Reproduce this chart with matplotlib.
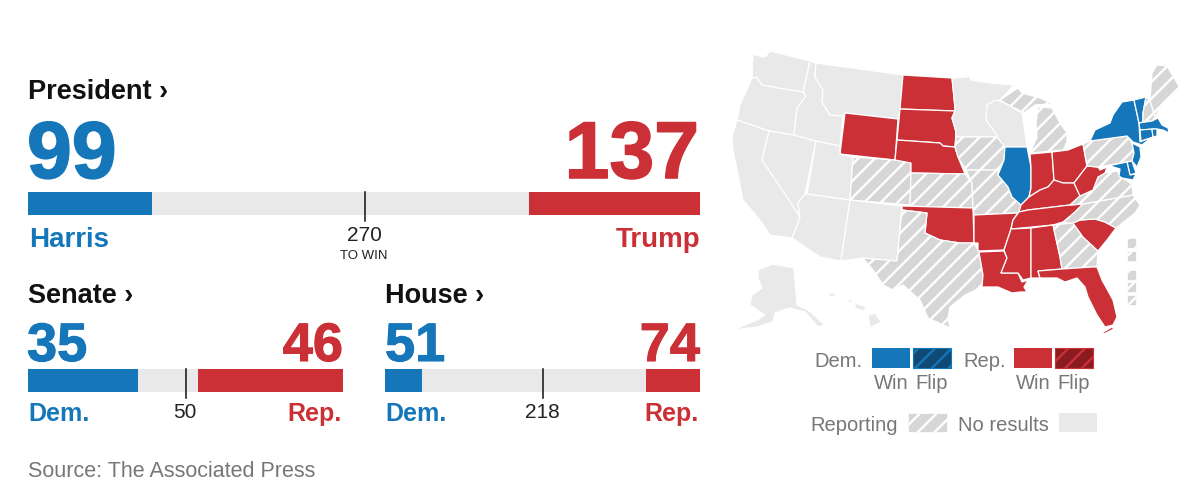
import matplotlib
matplotlib.use('Agg')
import matplotlib.pyplot as plt
import matplotlib.patheffects as pe
from matplotlib.patches import Polygon, Rectangle

plt.rcParams['font.family'] = ['Liberation Sans', 'DejaVu Sans']
plt.rcParams['hatch.linewidth'] = 1.7

BLUE = '#1576b9'
RED = '#ca3035'
DARK_BLUE = '#0f4a75'
DARK_RED = '#8a1c20'
GRAY = '#e9e9e9'
HATCH = '#d6d6d6'
TEXT_GRAY = '#777777'

# seats
pres_total, pres_dem, pres_rep, pres_win = 538, 99, 137, 270
senate_total, senate_dem, senate_rep, senate_win = 100, 35, 46, 50
house_total, house_dem, house_rep, house_win = 435, 51, 74, 218

# state outlines, in image pixels
states = {
    'WA': [(753,54),(762,57),(766,56),(770,51),(810,61),(803,92),(778,88),(762,85),(756,77),(752,78)],
    'OR': [(752,78),(756,77),(762,85),(778,88),(803,92),(806,96),(797,108),(794,135),(769,131),(737,120),(740,105)],
    'CA': [(737,120),(769,131),(762,160),(787,197),(800,217),(798,223),(792,238),(770,235),(760,220),(743,200),(733,150),(732,137)],
    'NV': [(769,131),(794,135),(816,141),(805,194),(798,203),(800,217),(787,197),(762,160)],
    'ID': [(810,61),(816,63),(815,77),(823,90),(822,102),(830,115),(843,116),(840,146),(816,141),(794,135),(797,108),(806,96),(803,92)],
    'MT': [(816,63),(903,75),(901,107),(898,119),(845,113),(843,116),(830,115),(822,102),(823,90),(815,77)],
    'WY': [(845,113),(898,119),(895,160),(840,154)],
    'UT': [(816,141),(840,146),(840,154),(853,157),(850,200),(807,194)],
    'CO': [(853,157),(895,160),(911,163),(911,173),(910,205),(850,200)],
    'AZ': [(807,194),(850,200),(841,261),(820,257),(792,238),(798,223),(800,217),(798,203),(805,194)],
    'NM': [(850,200),(902,206),(897,261),(864,258),(848,260),(841,261)],
    'ND': [(903,75),(952,78),(955,108),(955,111),(900,109)],
    'SD': [(900,109),(955,111),(952,118),(956,132),(955,147),(943,146),(940,143),(897,140)],
    'NE': [(897,140),(940,143),(943,146),(955,147),(958,157),(965,174),(911,173),(911,163),(895,160)],
    'KS': [(911,173),(965,174),(972,183),(973,208),(902,206),(910,205)],
    'OK': [(902,206),(973,208),(974,243),(960,243),(940,240),(925,233),(927,213),(902,210)],
    'TX': [(902,210),(927,213),(925,233),(940,240),(960,243),(974,243),(979,252),(983,275),(982,287),(965,295),(950,307),(948,318),(950,328),(928,318),(920,300),(903,285),(893,290),(883,285),(873,270),(863,258),(897,261)],
    'MN': [(952,78),(967,77),(968,74),(971,80),(990,83),(1014,85),(1000,100),(987,105),(986,120),(997,135),(997,137),(956,137),(956,132),(952,118),(955,111),(955,108)],
    'IA': [(956,137),(997,137),(1005,147),(1004,160),(998,170),(966,170),(958,157),(955,147)],
    'MO': [(966,170),(998,170),(998,175),(1008,187),(1012,197),(1021,205),(1019,212),(1018,213),(974,215),(973,208),(972,183)],
    'AR': [(974,215),(1018,213),(1013,220),(1011,229),(1004,250),(978,251),(978,243),(974,243)],
    'LA': [(979,252),(1004,251),(1007,258),(1001,273),(1018,273),(1022,282),(1028,280),(1024,287),(1027,292),(1020,292),(1012,293),(998,287),(982,287),(983,275)],
    'WI': [(987,105),(996,100),(1005,103),(1022,113),(1024,125),(1027,147),(1005,147),(997,137),(997,135),(986,120)],
    'IL': [(1005,147),(1027,147),(1031,167),(1031,188),(1029,197),(1021,205),(1012,197),(1008,187),(998,175),(1004,160)],
    'MI_up': [(1000,100),(1018,88),(1022,93),(1040,98),(1053,104),(1035,105),(1024,113),(1005,103)],
    'MI_low': [(1038,107),(1052,108),(1060,123),(1067,133),(1067,142),(1063,150),(1030,153),(1037,137),(1036,123)],
    'IN': [(1030,154),(1052,152),(1054,180),(1048,187),(1040,190),(1029,197),(1031,188),(1031,167)],
    'OH': [(1052,152),(1068,150),(1083,144),(1087,166),(1074,183),(1063,183),(1054,180)],
    'KY': [(1029,197),(1040,190),(1048,187),(1054,180),(1063,183),(1074,183),(1080,196),(1070,205),(1028,210),(1019,212),(1021,205)],
    'TN': [(1019,212),(1028,210),(1070,205),(1083,204),(1075,212),(1063,222),(1053,225),(1011,229),(1013,220)],
    'MS': [(1011,229),(1031,228),(1031,278),(1023,280),(1018,273),(1001,273),(1007,258),(1004,250)],
    'AL': [(1031,228),(1053,225),(1060,257),(1062,269),(1038,271),(1040,278),(1033,278),(1031,278)],
    'GA': [(1053,225),(1073,223),(1083,237),(1098,251),(1097,267),(1092,267),(1062,269),(1060,257)],
    'FL': [(1038,271),(1062,269),(1092,267),(1097,267),(1102,280),(1113,300),(1117,317),(1113,325),(1105,327),(1097,315),(1088,297),(1085,287),(1077,278),(1065,282),(1057,278),(1040,278)],
    'FL_keys': [(1102,333),(1112,327),(1114,329),(1104,334)],
    'SC': [(1073,223),(1080,220),(1095,219),(1105,222),(1116,228),(1107,240),(1098,251),(1083,237)],
    'NC': [(1083,204),(1133,195),(1140,205),(1135,213),(1116,228),(1105,222),(1095,219),(1080,220),(1073,223),(1063,223),(1075,212)],
    'VA': [(1080,196),(1093,190),(1098,177),(1105,173),(1117,171),(1122,178),(1132,184),(1133,195),(1083,204),(1070,205)],
    'WV': [(1087,166),(1098,167),(1100,170),(1107,167),(1105,173),(1098,177),(1093,190),(1080,196),(1074,183)],
    'PA': [(1083,144),(1090,141),(1127,136),(1132,143),(1134,153),(1132,161),(1098,167),(1087,166)],
    'NY': [(1090,141),(1095,130),(1110,123),(1113,115),(1122,102),(1134,100),(1139,123),(1140,142),(1152,137),(1142,145),(1133,142),(1127,136)],
    'NJ': [(1132,143),(1140,147),(1141,157),(1137,167),(1132,161),(1134,153)],
    'DE': [(1127,162),(1132,161),(1136,173),(1130,175)],
    'MD': [(1103,167),(1127,162),(1130,175),(1136,174),(1133,180),(1122,178),(1119,176),(1120,169),(1110,166)],
    'VT': [(1134,100),(1146,97),(1143,113),(1143,122),(1139,123)],
    'NH': [(1146,97),(1150,100),(1155,117),(1152,121),(1143,122),(1143,113)],
    'ME': [(1152,73),(1157,65),(1167,66),(1180,88),(1163,103),(1155,117),(1150,100)],
    'MA': [(1139,123),(1152,121),(1158,118),(1162,125),(1168,128),(1169,133),(1163,130),(1157,129),(1140,130)],
    'CT': [(1140,130),(1152,129),(1153,137),(1141,141)],
    'RI': [(1152,129),(1157,129),(1157,136),(1153,137)],
    'AK': [(758,270),(773,264),(794,268),(797,305),(808,310),(825,325),(818,327),(805,312),(790,308),(775,313),(773,322),(757,327),(733,330),(757,320),(765,315),(750,305),(752,295),(762,288),(758,278)],
    'HI_big': [(868,315),(875,313),(881,322),(870,328)],
    'HI_maui': [(855,303),(867,307),(863,311),(855,308)],
    'HI_oahu': [(846,298),(852,300),(851,304)],
    'HI_kauai': [(830,293),(835,293),(835,296),(829,297)],
}
# the little hatched boxes off the east coast
ne_boxes = [(1127,238),(1127,251),(1127,270),(1127,282),(1127,295)]

dem_states = ['IL','NY','VT','MA','CT','RI','NJ','DE','MD']
rep_states = ['ND','SD','NE','WY','OK','AR','LA','MS','AL','TN','KY','IN','OH','WV','SC','FL','FL_keys']
reporting_states = ['KS','CO','TX','IA','MO','MI_up','MI_low','PA','VA','NC','GA','ME','NH']

W, H = 1200, 501
fig = plt.figure(figsize=(W / 100, H / 100), dpi=100)
ax = fig.add_axes([0, 0, 1, 1])
ax.set_xlim(0, W)
ax.set_ylim(H, 0)
ax.axis('off')


def seat_bar(x, y, w, h, total, dem, rep, win, tick_drop):
    bar = fig.add_axes([x / W, 1 - (y + h) / H, w / W, h / H])
    bar.set_xlim(0, total)
    bar.set_ylim(0, 1)
    bar.axis('off')
    bar.barh(0.5, total, height=1, color=GRAY)
    bar.barh(0.5, dem, height=1, color=BLUE)
    bar.barh(0.5, rep, left=total - rep, height=1, color=RED)
    bar.plot([win, win], [1, -tick_drop / h], color='#111111', lw=1.1, clip_on=False)


def big_number(x, y, value, size, color, ha='left'):
    # the digits in the original are a bit heavier than bold
    t = ax.text(x, y, str(value), fontsize=size, fontweight='bold', color=color, ha=ha)
    t.set_path_effects([pe.withStroke(linewidth=size / 50, foreground=color)])


# president
ax.text(28, 99, 'President ›', fontsize=19.5, fontweight='bold', color='#111111')
big_number(27, 178, pres_dem, 58, BLUE)
big_number(699, 178, pres_rep, 58, RED, ha='right')
seat_bar(28, 192, 672, 23, pres_total, pres_dem, pres_rep, pres_win, 6)
ax.text(29, 247, 'Harris', fontsize=20, fontweight='bold', color=BLUE)
ax.text(700, 247, 'Trump', fontsize=20, fontweight='bold', color=RED, ha='right')
ax.text(364, 241, str(pres_win), fontsize=15, color='#222222', ha='center')
ax.text(364, 259, 'TO WIN', fontsize=9.5, color='#222222', ha='center')

# senate
ax.text(28, 303, 'Senate ›', fontsize=19.5, fontweight='bold', color='#111111')
big_number(27, 361, senate_dem, 39, BLUE)
big_number(343, 361, senate_rep, 39, RED, ha='right')
seat_bar(28, 369, 315, 23, senate_total, senate_dem, senate_rep, senate_win, 6)
ax.text(28, 421, 'Dem.', fontsize=18, fontweight='bold', color=BLUE)
ax.text(342, 421, 'Rep.', fontsize=18, fontweight='bold', color=RED, ha='right')
ax.text(185, 418, str(senate_win), fontsize=15, color='#222222', ha='center')

# house
ax.text(385, 303, 'House ›', fontsize=19.5, fontweight='bold', color='#111111')
big_number(385, 361, house_dem, 39, BLUE)
big_number(700, 361, house_rep, 39, RED, ha='right')
seat_bar(385, 369, 315, 23, house_total, house_dem, house_rep, house_win, 6)
ax.text(385, 421, 'Dem.', fontsize=18, fontweight='bold', color=BLUE)
ax.text(699, 421, 'Rep.', fontsize=18, fontweight='bold', color=RED, ha='right')
ax.text(542, 418, str(house_win), fontsize=15, color='#222222', ha='center')

ax.text(28, 477, 'Source: The Associated Press', fontsize=15.5, color=TEXT_GRAY)

# map
for name, pts in states.items():
    if name in dem_states:
        ax.add_patch(Polygon(pts, facecolor=BLUE, edgecolor='white', lw=0.9))
    elif name in rep_states:
        ax.add_patch(Polygon(pts, facecolor=RED, edgecolor='white', lw=0.9))
    elif name in reporting_states:
        ax.add_patch(Polygon(pts, facecolor=HATCH, edgecolor='white', lw=0.9, hatch='//'))
    else:
        ax.add_patch(Polygon(pts, facecolor=GRAY, edgecolor='white', lw=0.9))

for bx, by in ne_boxes:
    ax.add_patch(Rectangle((bx, by), 9, 10, facecolor=HATCH, edgecolor='white', lw=0.5, hatch='//'))

# legend
ax.text(814, 367, 'Dem.', fontsize=14.5, color=TEXT_GRAY)
ax.add_patch(Rectangle((872, 348), 38, 20, facecolor=BLUE, edgecolor='none'))
ax.add_patch(Rectangle((913, 348), 38, 20, facecolor=DARK_BLUE, edgecolor=BLUE, lw=0.8, hatch='//'))
ax.text(963, 367, 'Rep.', fontsize=14.5, color=TEXT_GRAY)
ax.add_patch(Rectangle((1014, 348), 38, 20, facecolor=RED, edgecolor='none'))
ax.add_patch(Rectangle((1055, 348), 38, 20, facecolor=DARK_RED, edgecolor=RED, lw=0.8, hatch='//'))
for lx, lab in [(891, 'Win'), (932, 'Flip'), (1033, 'Win'), (1074, 'Flip')]:
    ax.text(lx, 389, lab, fontsize=14.5, color=TEXT_GRAY, ha='center')
ax.text(810, 431, 'Reporting', fontsize=14.5, color=TEXT_GRAY)
ax.add_patch(Rectangle((908, 413), 39, 19, facecolor=HATCH, edgecolor='white', lw=0.5, hatch='//'))
ax.text(958, 431, 'No results', fontsize=14.5, color=TEXT_GRAY)
ax.add_patch(Rectangle((1059, 413), 38, 19, facecolor=GRAY, edgecolor='none'))

plt.savefig('out.png', dpi=100)
